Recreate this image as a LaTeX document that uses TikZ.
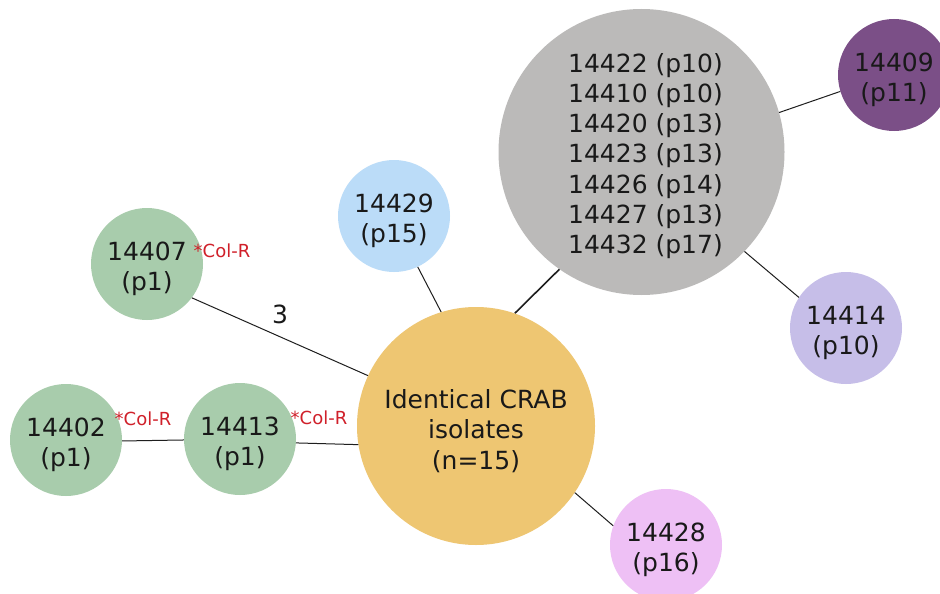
\documentclass[tikz,border=0pt]{standalone}
\usepackage{fontspec}
\setmainfont{DejaVu Sans}
\definecolor{cgreen}{RGB}{168,204,172}
\definecolor{corange}{RGB}{238,198,114}
\definecolor{cgray}{RGB}{187,186,185}
\definecolor{cplum}{RGB}{123,79,135}
\definecolor{clav}{RGB}{198,190,232}
\definecolor{cpink}{RGB}{238,192,245}
\definecolor{cblue}{RGB}{187,220,248}
\definecolor{cred}{RGB}{208,32,42}
\definecolor{cline}{RGB}{30,30,30}
\newcommand\isofont{\fontsize{25}{30.25}\selectfont}
\newcommand\notefont{\fontsize{18}{22}\selectfont}
\tikzset{
  plain/.style={inner sep=0pt, align=center, font=\isofont, text=black!90},
  iso/.style={circle, inner sep=0pt, minimum size=112pt,
              label={[plain, yshift=-5pt]center:{#1}}},
  link/.style={draw=cline, line width=1pt},
  boldlink/.style={draw=cline, line width=1.6pt},
  colr/.style={text=cred, font=\notefont, inner sep=0pt},
}
\begin{document}
\begin{tikzpicture}[x=1pt,y=-1pt]
  \clip (0,0) rectangle (940,594);
  \fill[white] (0,0) rectangle (940,594);

  % clusters
  \node[iso={Identical CRAB\\isolates\\(n=15)}, fill=corange, minimum size=238pt] (crab) at (476,426) {};
  \node[circle, fill=cgray, inner sep=0pt, minimum size=286pt] (grp) at (641.5,152) {};
  \node[plain] (grptxt) at (645.5,156)
    {14422 (p10)\\14410 (p10)\\14420 (p13)\\14423 (p13)\\14426 (p14)\\14427 (p13)\\14432 (p17)};
  \node[iso={14409\\(p11)}, fill=cplum] (n14409) at (894,75) {};
  \node[iso={14414\\(p10)}, fill=clav] (n14414) at (846,328) {};
  \node[iso={14428\\(p16)}, fill=cpink] (n14428) at (666,545) {};
  \node[iso={14429\\(p15)}, fill=cblue] (n14429) at (394,216) {};
  \node[iso={14407\\(p1)}, fill=cgreen] (n14407) at (147,264) {};
  \node[iso={14413\\(p1)}, fill=cgreen] (n14413) at (240,439) {};
  \node[iso={14402\\(p1)}, fill=cgreen] (n14402) at (66,440) {};

  % connectors
  \path[link] (n14407.-37) -- (crab.155);
  \node[plain] (d3) at (280,314) {3};
  \path[link] (n14402.-1) -- (n14413.181);
  \path[link] (n14413.-4) -- (crab.189);
  \path[link] (n14429.-65) -- (crab.107);
  \path[boldlink] (grp.-125) -- (crab.71);
  \path[link] (grp.16) -- (n14409.197);
  \path[link] (grp.-44) -- (n14414.147);
  \path[link] (crab.-34) -- (n14428.160);

  % resistance notes
  \node[colr] (r14407) at (222,251) {*Col-R};
  \node[colr] (r14402) at (143,419) {*Col-R};
  \node[colr] (r14413) at (319,418) {*Col-R};
\end{tikzpicture}
\end{document}
